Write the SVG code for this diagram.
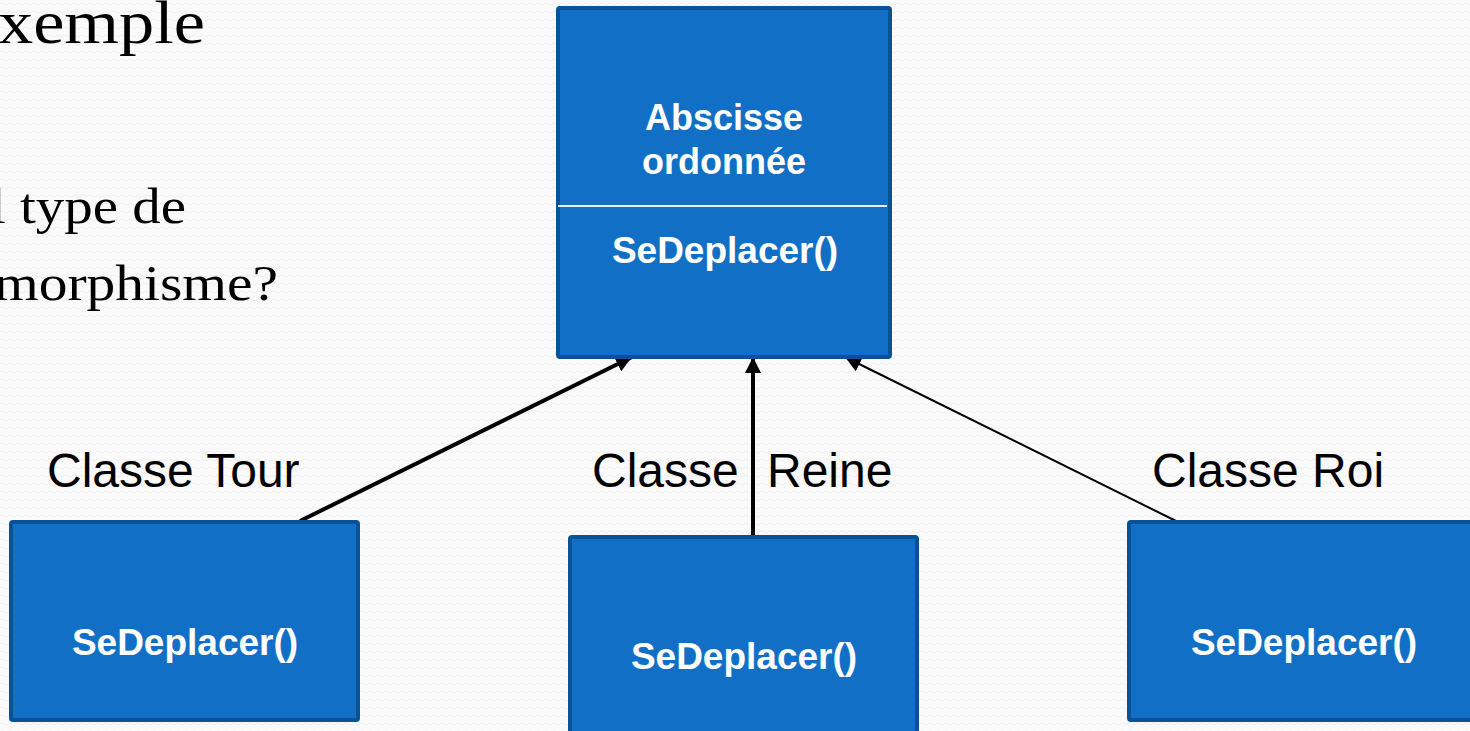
<svg xmlns="http://www.w3.org/2000/svg" width="1470" height="731" viewBox="0 0 1470 731">
<defs>
<marker id="ah" viewBox="0 0 10 10" refX="10" refY="5" markerWidth="16" markerHeight="16" markerUnits="userSpaceOnUse" orient="auto"><path d="M0,0 L10,5 L0,10 z" fill="#000"/></marker>
<pattern id="bg" width="8" height="8" patternUnits="userSpaceOnUse"><rect width="8" height="8" fill="#fafafa"/><path d="M0,4 Q2,2 4,4 T8,4" fill="none" stroke="#eeeeee" stroke-width="1"/></pattern>
</defs>
<style>
.box{fill:#1170c6;stroke:#0a5296;stroke-width:4}
.bt{font-family:"Liberation Sans",Arial,sans-serif;font-weight:bold;fill:#fff;text-anchor:middle}
.lbl{font-family:"Liberation Sans",Arial,sans-serif;font-size:48px;fill:#000}
.ser{font-family:"Liberation Serif","DejaVu Serif",serif;fill:#000}
.cn{stroke:#000;fill:none}
</style>
<rect width="1470" height="731" fill="url(#bg)"/>
<g id="title">
<text class="ser" x="-2" y="43" font-size="62" textLength="207" lengthAdjust="spacingAndGlyphs">xemple</text>
<text class="ser" x="-10" y="223" font-size="50" textLength="196" lengthAdjust="spacingAndGlyphs">l type de</text>
<text class="ser" x="-6" y="300" font-size="50" textLength="284" lengthAdjust="spacingAndGlyphs">morphisme?</text>
</g>
<g id="connectors">
<line class="cn" x1="300" y1="521" x2="632" y2="357" stroke-width="4" marker-end="url(#ah)"/>
<line class="cn" x1="753" y1="536" x2="753" y2="357" stroke-width="4" marker-end="url(#ah)"/>
<line class="cn" x1="1176" y1="521" x2="845" y2="357" stroke-width="2" marker-end="url(#ah)"/>
</g>
<g id="parent">
<rect class="box" x="558" y="8" width="332" height="349" rx="2"/>
<line x1="558" y1="206" x2="887" y2="206" stroke="#e6eef8" stroke-width="2"/>
<text class="bt" x="724" y="130" font-size="36">Abscisse</text>
<text class="bt" x="724" y="174" font-size="36">ordonnée</text>
<text class="bt" x="725" y="263" font-size="37">SeDeplacer()</text>
</g>
<g id="tour">
<rect class="box" x="11" y="522" width="347" height="198" rx="2"/>
<text class="bt" x="185" y="655" font-size="37">SeDeplacer()</text>
</g>
<g id="reine">
<rect class="box" x="570" y="537" width="347" height="200" rx="2"/>
<text class="bt" x="744" y="669" font-size="37">SeDeplacer()</text>
</g>
<g id="roi">
<rect class="box" x="1129" y="522" width="347" height="198" rx="2"/>
<text class="bt" x="1304" y="655" font-size="37">SeDeplacer()</text>
</g>
<g id="labels">
<text class="lbl" x="47" y="487">Classe Tour</text>
<text class="lbl" x="592" y="487">Classe</text>
<text class="lbl" x="767" y="487">Reine</text>
<text class="lbl" x="1152" y="487">Classe Roi</text>
</g>
</svg>
